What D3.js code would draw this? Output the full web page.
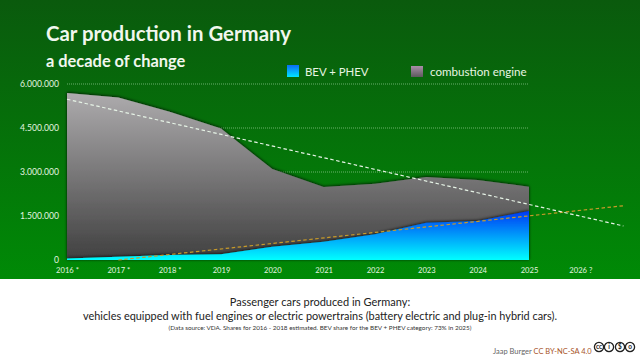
<!DOCTYPE html>
<html>
<head>
<meta charset="utf-8">
<script src="https://cdn.jsdelivr.net/npm/d3@7"></script>
<style>
  html, body { margin: 0; padding: 0; background: #fff; }
  svg { display: block; }
  text { font-family: Lato, "Open Sans", sans-serif; }
  .domain { display: none; }
  .tick line { display: none; }
</style>
</head>
<body>
<svg id="chart" width="640" height="360"></svg>
<script>
const years = [2016, 2017, 2018, 2019, 2020, 2021, 2022, 2023, 2024, 2025];
const bevPhev = [50000, 110000, 170000, 200000, 450000, 620000, 880000, 1270000, 1330000, 1670000];
const combustion = [5640000, 5430000, 4880000, 4280000, 2650000, 1870000, 1720000, 1560000, 1400000, 830000];

const xTickYears = [2016, 2017, 2018, 2019, 2020, 2021, 2022, 2023, 2024, 2025, 2026];
const xTickLabels = ["2016 *", "2017 *", "2018 *", "2019", "2020", "2021", "2022", "2023", "2024", "2025", "2026 ?"];
const yTicks = [0, 1500000, 3000000, 4500000, 6000000];

const totalTrendYears = [2016, 2026.84];
const totalTrend = [5480000, 1160000];
const bevTrendYears = [2017, 2026.84];
const bevTrend = [0, 1850000];

const svg = d3.select("#chart");
const defs = svg.append("defs");

const addGradient = (id, top, bottom) => {
  const g = defs.append("linearGradient")
    .attr("id", id)
    .attr("x1", 0).attr("x2", 0)
    .attr("y1", 0).attr("y2", 1);
  g.append("stop").attr("offset", "0%").attr("stop-color", top);
  g.append("stop").attr("offset", "100%").attr("stop-color", bottom);
};
addGradient("bg_grad", "#0a5a0d", "#008a06");
addGradient("grey_grad", "#adabad", "#414141");
addGradient("blue_grad", "#0038f5", "#00ffff");
addGradient("swatch_blue", "#0a6cf5", "#00e5ff");
addGradient("swatch_grey", "#a98fa8", "#5d5a5d");

const shadow = defs.append("filter")
  .attr("id", "area_shadow")
  .attr("x", "-5%").attr("y", "-5%")
  .attr("width", "110%").attr("height", "110%");
shadow.append("feDropShadow")
  .attr("dx", 0).attr("dy", -0.5)
  .attr("stdDeviation", 1.5)
  .attr("flood-color", "#000")
  .attr("flood-opacity", 0.85);

// background
svg.append("rect").attr("width", 640).attr("height", 279).attr("fill", "url(#bg_grad)");

const x = d3.scaleLinear().domain([2016, 2025]).range([67, 529]);
const y = d3.scaleLinear().domain([0, 6000000]).range([260, 84]);

const deLocale = d3.formatLocale({decimal: ",", thousands: ".", grouping: [3], currency: ["", "€"]});

// grid
svg.append("g").selectAll("line")
  .data(yTicks.slice(1))
  .join("line")
  .attr("x1", x(2016)).attr("x2", x(2025) - 1)
  .attr("y1", d => y(d)).attr("y2", d => y(d))
  .attr("stroke", "#a5d6a5")
  .attr("stroke-opacity", 0.8)
  .attr("stroke-width", 0.8)
  .attr("stroke-dasharray", "1 1");

// axes
const yAxis = svg.append("g")
  .attr("transform", `translate(${x(2016) - 8},0)`)
  .call(d3.axisLeft(y).tickValues(yTicks).tickSize(0).tickPadding(0).tickFormat(deLocale.format(",d")));
yAxis.selectAll("text").attr("fill", "#e4f5e0").attr("font-size", 8.6);

const xAxis = svg.append("g")
  .attr("transform", "translate(0,267.5)")
  .call(d3.axisBottom(x).tickValues(xTickYears).tickSize(0).tickPadding(0)
    .tickFormat((d, i) => xTickLabels[i]));
xAxis.selectAll("text").attr("fill", "#e4f5e0").attr("font-size", 7.6);

// stacked areas
const rows = years.map((year, i) => ({year, bev: bevPhev[i], combustion: combustion[i]}));
const stacked = d3.stack().keys(["bev", "combustion"])(rows);
const area = d3.area()
  .x(d => x(d.data.year))
  .y0(d => y(d[0]))
  .y1(d => y(d[1]));

svg.append("path")
  .datum(stacked[1])
  .attr("d", area)
  .attr("fill", "url(#grey_grad)")
  .attr("filter", "url(#area_shadow)");
svg.append("path")
  .datum(stacked[0])
  .attr("d", area)
  .attr("fill", "url(#blue_grad)")
  .attr("filter", "url(#area_shadow)");

// trend lines
const trendLine = d3.line().x(d => x(d[0])).y(d => y(d[1]));
svg.append("path")
  .attr("d", trendLine(d3.zip(bevTrendYears, bevTrend)))
  .attr("fill", "none")
  .attr("stroke", "#c79a2a")
  .attr("stroke-width", 1.2)
  .attr("stroke-dasharray", "3.5 2.5");
svg.append("path")
  .attr("d", trendLine(d3.zip(totalTrendYears, totalTrend)))
  .attr("fill", "none")
  .attr("stroke", "#e6f3e6")
  .attr("stroke-width", 1.2)
  .attr("stroke-dasharray", "3.5 2.5");

// titles
svg.append("text").attr("x", 46).attr("y", 41)
  .attr("font-size", 20.4).attr("font-weight", 700).attr("fill", "#f1f7ee")
  .text("Car production in Germany");
svg.append("text").attr("x", 46).attr("y", 67)
  .attr("font-size", 16.4).attr("font-weight", 700).attr("fill", "#f1f7ee")
  .text("a decade of change");

// legend
svg.append("rect").attr("x", 287).attr("y", 65).attr("width", 12).attr("height", 12)
  .attr("fill", "url(#swatch_blue)");
svg.append("text").attr("x", 305).attr("y", 76)
  .attr("font-size", 11.4).attr("fill", "#e8f5e2").text("BEV + PHEV");
svg.append("rect").attr("x", 411).attr("y", 66).attr("width", 12).attr("height", 11)
  .attr("fill", "url(#swatch_grey)");
svg.append("text").attr("x", 430).attr("y", 76)
  .attr("font-size", 11.6).attr("fill", "#e8f5e2").text("combustion engine");

// caption
svg.append("text").attr("x", 320).attr("y", 306).attr("text-anchor", "middle")
  .attr("font-size", 11).attr("fill", "#222")
  .text("Passenger cars produced in Germany:");
svg.append("text").attr("x", 320).attr("y", 320).attr("text-anchor", "middle")
  .attr("font-size", 10.9).attr("fill", "#222")
  .text("vehicles equipped with fuel engines or electric powertrains (battery electric and plug-in hybrid cars).");
svg.append("text").attr("x", 320).attr("y", 330).attr("text-anchor", "middle")
  .attr("font-size", 6.35).attr("fill", "#333")
  .text("(Data source: VDA. Shares for 2016 - 2018 estimated. BEV share for the BEV + PHEV category: 73% in 2025)");

// credit
const credit = svg.append("text").attr("x", 493).attr("y", 353.5).attr("font-size", 7.5);
credit.append("tspan").attr("fill", "#666").text("Jaap Burger ");
credit.append("tspan").attr("fill", "#a8542a").text("CC BY-NC-SA 4.0");

const icons = ["cc", "i", "$", "o"];
const iconGroups = svg.append("g").selectAll("g")
  .data(icons)
  .join("g")
  .attr("transform", (d, i) => `translate(${[599, 609, 620, 630][i]},347)`);
iconGroups.append("circle").attr("r", 4.6).attr("fill", "#fff").attr("stroke", "#222").attr("stroke-width", 1.3);
iconGroups.append("text").attr("text-anchor", "middle").attr("y", 2.4)
  .attr("font-size", 6.5).attr("font-weight", 700).attr("fill", "#222")
  .text(d => d);
</script>
</body>
</html>
